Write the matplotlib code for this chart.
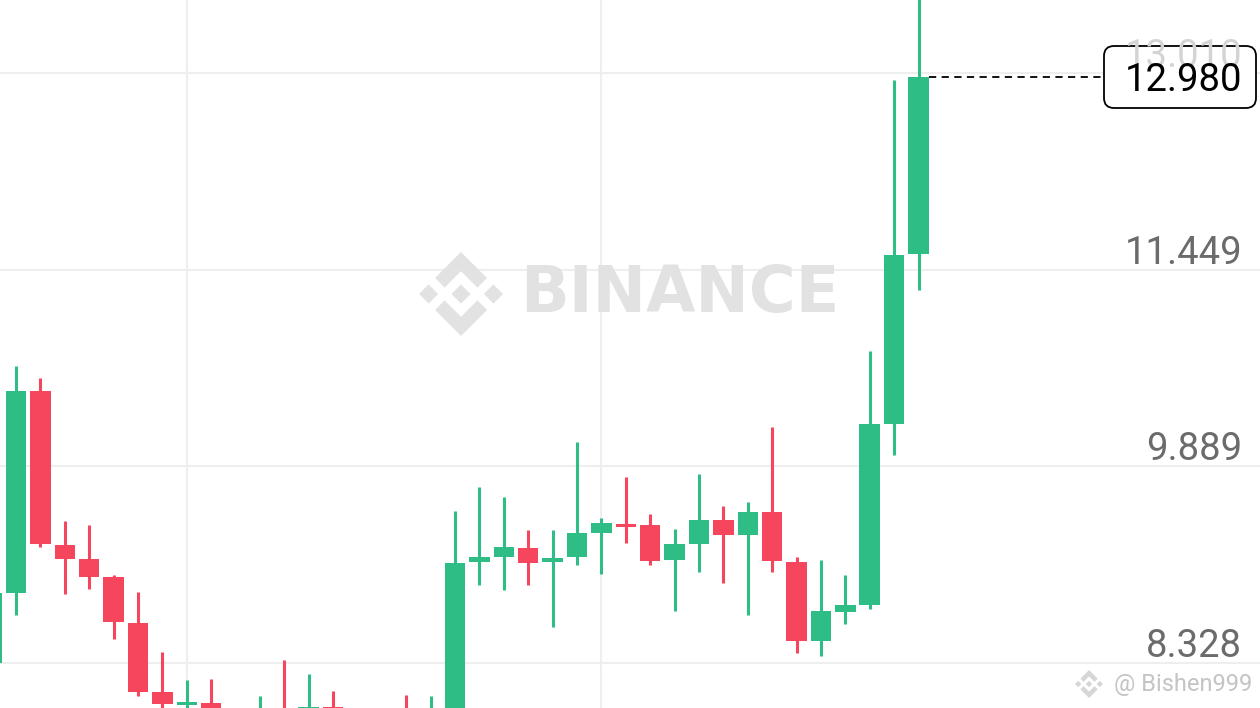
import numpy as np
import matplotlib
matplotlib.use("Agg")
import matplotlib.pyplot as plt
from matplotlib.patches import Polygon, FancyBboxPatch
from matplotlib.transforms import Affine2D, offset_copy

# candle data (index -1 is the partly hidden first one)
opens = [8.328, 8.884, 10.487, 9.264, 9.153, 9.008, 8.648, 8.100, 7.995, 8.013,
         7.940, 7.900, 7.960, 7.950, 7.981, 7.940, 7.920, 7.960, 7.930, 7.950,
         9.132, 9.169, 9.243, 9.127, 9.169, 9.362, 9.431, 9.423, 9.145, 9.275,
         9.463, 9.344, 9.526, 9.129, 8.499, 8.733, 8.788, 10.221, 11.570]
highs = [8.950, 10.687, 10.587, 9.457, 9.425, 9.026, 8.889, 8.418, 8.193, 8.199,
         7.960, 8.066, 8.352, 8.241, 8.106, 7.960, 7.965, 8.074, 8.069, 9.534,
         9.727, 9.648, 9.383, 9.383, 10.084, 9.479, 9.802, 9.513, 9.394, 9.828,
         9.576, 9.603, 10.197, 9.173, 9.145, 9.030, 10.805, 12.958, 13.830]
lows = [8.250, 8.709, 9.251, 8.876, 8.918, 8.516, 8.069, 7.915, 7.915, 7.876,
        7.880, 7.860, 7.850, 7.880, 7.880, 7.870, 7.870, 7.870, 7.880, 7.930,
        8.945, 8.910, 8.949, 8.616, 9.108, 9.034, 9.278, 9.108, 8.741, 9.053,
        8.965, 8.709, 9.048, 8.411, 8.386, 8.637, 8.758, 9.979, 11.288]
closes = [8.884, 10.487, 9.270, 9.156, 9.010, 8.651, 8.100, 8.000, 8.019, 7.939,
          7.920, 7.950, 7.920, 7.981, 7.950, 7.920, 7.940, 7.930, 7.960, 9.124,
          9.169, 9.249, 9.124, 9.164, 9.360, 9.437, 9.405, 9.140, 9.272, 9.463,
          9.341, 9.529, 9.137, 8.499, 8.741, 8.788, 10.221, 11.566, 12.980]

price_levels = [13.010, 11.449, 9.889, 8.328]
price_labels = ["13.010", "11.449", "9.889", "8.328"]
last_price = 12.980
vgrid_idx = [7, 24]

GREEN = "#2ebd85"
RED = "#f6465d"
W, H = 1260, 708

fig = plt.figure(figsize=(12.6, 7.08), dpi=100)
ax = fig.add_axes([0, 0, 1, 1])
ax.set_xlim(-0.656, 51.0)
ax.set_ylim(7.971, 13.589)
ax.axis("off")

# grid
for lv in price_levels:
    ax.axhline(lv, color="#eeeeee", lw=1.5, zorder=0)
for v in vgrid_idx:
    ax.axvline(v, color="#eeeeee", lw=1.5, zorder=0)

# pixel transform (y down) for decorations
px = Affine2D().scale(1 / W, -1 / H).translate(0, 1) + fig.transFigure


def logo(cx, cy, half, color):
    s = half / 62.76
    top = [(38.171, 53.203), (62.759, 28.616), (87.36, 53.216),
           (101.667, 38.909), (62.759, 0), (24.064, 38.696)]
    bottom = [(x, 125.52 - y) for x, y in top]
    left = [(0, 62.76), (14.307, 48.453), (28.614, 62.76), (14.307, 77.067)]
    right = [(x + 96.906, y) for x, y in left]
    mid = [(62.76, 48.45), (77.07, 62.76), (62.76, 77.07), (48.45, 62.76)]
    for shape in (top, bottom, left, right, mid):
        pts = [(cx + (x - 62.76) * s, cy + (y - 62.76) * s) for x, y in shape]
        ax.add_patch(Polygon(pts, closed=True, transform=px, color=color,
                             lw=0, zorder=1))


# watermark
logo(461, 294, 42, "#e2e2e2")
ax.text(680, 294, "BINANCE", transform=px, fontsize=46, fontweight="bold",
        family="DejaVu Sans", color="#e2e2e2", ha="center", va="center",
        zorder=1)

# candles
xs = np.arange(-1, len(opens) - 1)
o = np.array(opens)
c = np.array(closes)
cols = [GREEN if cc >= oo else RED for oo, cc in zip(o, c)]
ax.vlines(xs, lows, highs, colors=cols, lw=2.2, zorder=3)
ax.bar(xs, np.abs(c - o), bottom=np.minimum(o, c), width=0.84, color=cols,
       zorder=4)

# last price line and box
ax.plot([xs[-1] + 0.45, 46.6], [last_price, last_price], color="black",
        lw=1.3, ls=(0, (4, 3)), zorder=5)
box = FancyBboxPatch((1104 + 10, 46 + 10), 152 - 20, 62 - 20,
                     boxstyle="round,pad=10", transform=px, fc="white",
                     ec="black", lw=1.3, zorder=6)
ax.add_patch(box)
ax.text(1184 / W, last_price, "12.980", transform=ax.get_yaxis_transform(),
        ha="center", va="center_baseline", fontsize=27.5, family="Roboto",
        color="black", zorder=8)

# price labels
lab_tr = offset_copy(ax.get_yaxis_transform(), fig=fig, x=0, y=6, units="dots")
for lv, txt in zip(price_levels, price_labels):
    col = "#d4d4d4" if txt == "13.010" else "#6b6b6b"
    ax.text(1242 / W, lv, txt, transform=lab_tr, ha="right", va="baseline",
            fontsize=27.5, family="Roboto", color=col, zorder=7)

# author tag
logo(1089, 684, 14, "#d6d6d6")
ax.text(1252, 684, "@ Bishen999", transform=px, fontsize=17, family="Roboto",
        color="#c4c4c4", ha="right", va="center", zorder=2)

fig.savefig("out.png", dpi=100, facecolor="white")
